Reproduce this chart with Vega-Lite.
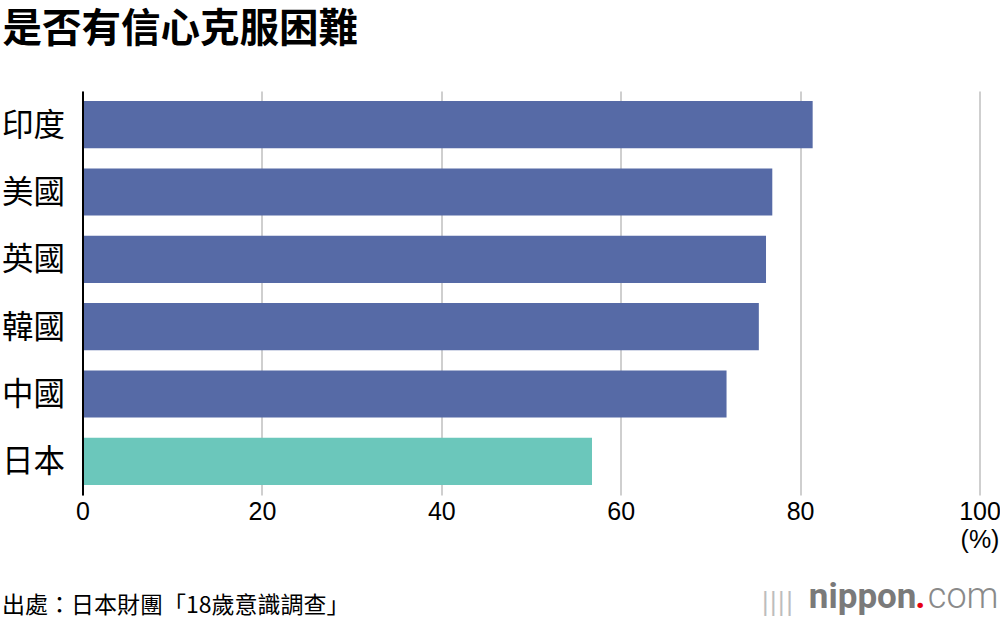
{
  "$schema": "https://vega.github.io/schema/vega-lite/v6.json",
  "width": 897,
  "height": 404,
  "autosize": {"type": "none"},
  "padding": {"left": 82.5, "top": 91, "right": 20.5, "bottom": 127},
  "background": "white",
  "title": {
    "text": "是否有信心克服困難",
    "anchor": "start",
    "frame": "group",
    "font": "Noto Sans CJK TC",
    "fontSize": 39.5,
    "fontWeight": "bold",
    "color": "#000000",
    "dx": -80,
    "offset": 41
  },
  "config": {
    "view": {"stroke": null},
    "font": "Noto Sans CJK TC"
  },
  "layer": [
    {
      "data": {
        "values": [
          {"country": "印度", "value": 81.4, "group": "other"},
          {"country": "美國", "value": 76.9, "group": "other"},
          {"country": "英國", "value": 76.2, "group": "other"},
          {"country": "韓國", "value": 75.4, "group": "other"},
          {"country": "中國", "value": 71.8, "group": "other"},
          {"country": "日本", "value": 56.8, "group": "japan"}
        ]
      },
      "mark": {"type": "bar"},
      "encoding": {
        "y": {
          "field": "country",
          "type": "nominal",
          "sort": null,
          "scale": {"paddingInner": 0.3, "paddingOuter": 0.15},
          "axis": {
            "title": null,
            "ticks": false,
            "domainColor": "#000000",
            "domainWidth": 2,
            "labelFont": "Noto Sans CJK TC",
            "labelFontSize": 31.5,
            "labelColor": "#000000",
            "labelPadding": 18,
            "labelOffset": 2,
            "zindex": 2
          }
        },
        "x": {
          "field": "value",
          "type": "quantitative",
          "scale": {"domain": [0, 100], "nice": false},
          "axis": {
            "values": [0, 20, 40, 60, 80, 100],
            "labelExpr": "datum.value == 100 ? ['100', '(%)'] : datum.label",
            "labelFlush": false,
            "labelBound": false,
            "labelOverlap": false,
            "domain": false,
            "ticks": false,
            "grid": true,
            "gridColor": "#cfcfcf",
            "gridWidth": 2,
            "labelFont": "Liberation Sans",
            "labelFontSize": 25,
            "labelColor": "#000000",
            "labelPadding": 4,
            "labelLineHeight": 28,
            "title": "出處：日本財團「18歲意識調查」",
            "titleFont": "Noto Sans CJK TC",
            "titleFontSize": 23,
            "titleFontWeight": "normal",
            "titleColor": "#000000",
            "titleAlign": "left",
            "titleBaseline": "middle",
            "titleX": -81,
            "titleY": 110
          }
        },
        "color": {
          "field": "group",
          "type": "nominal",
          "scale": {"domain": ["other", "japan"], "range": ["#566aa6", "#6bc7bb"]},
          "legend": null
        }
      }
    },
    {
      "data": {"values": [{"t": "nippon"}]},
      "mark": {"type": "text", "align": "right", "baseline": "alphabetic", "font": "Roboto", "fontSize": 35, "fontWeight": "bold", "color": "#7a7a7a", "dx": -63, "dy": 147},
      "encoding": {"x": {"datum": 100}, "y": {"datum": "日本"}, "text": {"field": "t"}}
    },
    {
      "data": {"values": [{"t": "."}]},
      "mark": {"type": "text", "align": "right", "baseline": "alphabetic", "font": "Roboto", "fontSize": 35, "fontWeight": "bold", "color": "#e60012", "dx": -54, "dy": 147},
      "encoding": {"x": {"datum": 100}, "y": {"datum": "日本"}, "text": {"field": "t"}}
    },
    {
      "data": {"values": [{"t": "com"}]},
      "mark": {"type": "text", "align": "right", "baseline": "alphabetic", "font": "Roboto", "fontSize": 36, "fontWeight": 300, "color": "#8a8a8a", "dx": 19, "dy": 147},
      "encoding": {"x": {"datum": 100}, "y": {"datum": "日本"}, "text": {"field": "t"}}
    },
    {
      "data": {"values": [{"t": "||||"}]},
      "mark": {"type": "text", "align": "right", "baseline": "alphabetic", "font": "DejaVu Sans", "fontSize": 24, "color": "#bdbdbd", "dx": -186, "dy": 149},
      "encoding": {"x": {"datum": 100}, "y": {"datum": "日本"}, "text": {"field": "t"}}
    }
  ]
}
